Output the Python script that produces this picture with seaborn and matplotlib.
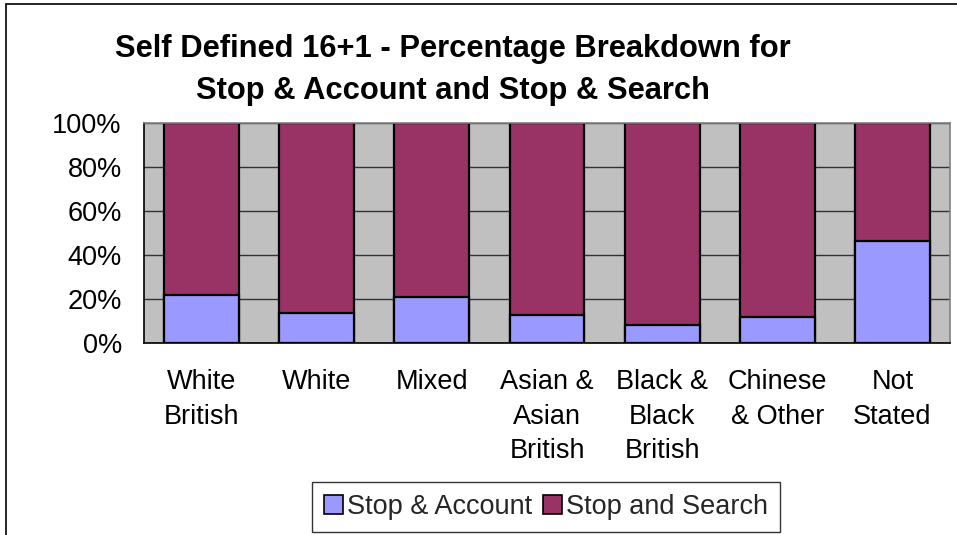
import numpy as np
import pandas as pd
import matplotlib
matplotlib.use("Agg")
import matplotlib.pyplot as plt
import matplotlib.patches as mpatches
from matplotlib.ticker import FixedLocator, PercentFormatter
import seaborn as sns

# ── Dados ────────────────────────────────────────────────────────────────────
categorias = ["White\nBritish", "White", "Mixed", "Asian &\nAsian\nBritish",
              "Black &\nBlack\nBritish", "Chinese\n& Other", "Not\nStated"]
stop_account = [21.8, 13.5, 20.8, 12.7, 8.2, 11.7, 46.4]
stop_search = [78.2, 86.5, 79.2, 87.3, 91.8, 88.3, 53.6]
y_ticks = [0, 20, 40, 60, 80, 100]

C_ACC = "#9999FF"
C_SEA = "#993366"
BG_AX = "#C0C0C0"
TEXT = "#000000"

sns.set_style("white")
plt.rcParams["font.family"] = ["Liberation Sans", "DejaVu Sans"]

df = pd.DataFrame({
    "categoria": categorias,
    "account": stop_account,
    "total": np.array(stop_account) + np.array(stop_search),
})

fig = plt.figure(figsize=(9.57, 5.35), dpi=100, facecolor="white")
ax = fig.add_axes([144 / 957, 1 - 343 / 535, 806 / 957, 220 / 535])
ax.set_facecolor(BG_AX)

# grade horizontal atrás das barras
ax.set_axisbelow(True)
ax.yaxis.grid(True, color="#333333", linewidth=1.0)

sns.barplot(data=df, x="categoria", y="total", color=C_SEA, saturation=1,
            width=0.65, edgecolor="black", linewidth=1.6, ax=ax)
sns.barplot(data=df, x="categoria", y="account", color=C_ACC, saturation=1,
            width=0.65, edgecolor="black", linewidth=1.6, ax=ax)

ax.set_xlim(-0.5, len(categorias) - 0.5)
ax.set_ylim(0, 100)
ax.set_yticks(y_ticks)
ax.yaxis.set_major_formatter(PercentFormatter(decimals=0))
ax.set_xlabel("")
ax.set_ylabel("")

# ticks no estilo Excel: marcas nas divisões entre categorias
ax.xaxis.set_minor_locator(FixedLocator(np.arange(-0.5, len(categorias), 1.0)))
ax.tick_params(axis="x", which="major", length=0, pad=19, labelsize=19.5, colors=TEXT)
ax.tick_params(axis="x", which="minor", length=6, width=1.2, direction="out", color="black")
ax.tick_params(axis="y", length=6, width=1.2, direction="out", pad=10, labelsize=19.5, colors=TEXT)
for lbl in ax.get_xticklabels():
    lbl.set_linespacing(1.42)

for s in ["left", "bottom"]:
    ax.spines[s].set_color("black")
    ax.spines[s].set_linewidth(1.2)
for s in ["top", "right"]:
    ax.spines[s].set_color("#808080")
    ax.spines[s].set_linewidth(1.2)

fig.text(453 / 957, 1 - 70 / 535,
         "Self Defined 16+1 - Percentage Breakdown for\nStop & Account and Stop & Search",
         ha="center", va="center", fontsize=22.2, fontweight="bold", color=TEXT,
         linespacing=1.55)

handles = [
    mpatches.Patch(facecolor=C_ACC, edgecolor="black", linewidth=1.2, label="Stop & Account"),
    mpatches.Patch(facecolor=C_SEA, edgecolor="black", linewidth=1.2, label="Stop and Search"),
]
leg = fig.legend(handles=handles, loc="center", bbox_to_anchor=(546 / 957, 1 - 507 / 535),
                 ncol=2, fontsize=19.5, frameon=True, fancybox=False,
                 handlelength=0.7, handleheight=0.7, handletextpad=0.15,
                 columnspacing=0.4, borderpad=0.45, borderaxespad=0)
leg.get_frame().set_edgecolor("black")
leg.get_frame().set_linewidth(1.0)

# moldura do gráfico
fig.patches.append(mpatches.Rectangle((6 / 957, -0.05), 1.1, 1 - 4 / 535 + 0.05,
                                      transform=fig.transFigure, fill=False,
                                      edgecolor="black", linewidth=1.2))

fig.savefig("out.png", dpi=100, facecolor="white")
